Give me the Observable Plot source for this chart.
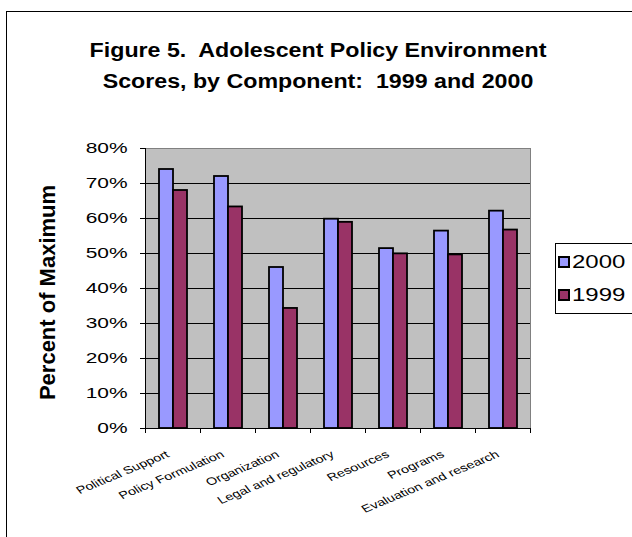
<!DOCTYPE html>
<html>
<head>
<meta charset="utf-8">
<script src="https://cdn.jsdelivr.net/npm/d3@7"></script>
<script src="https://cdn.jsdelivr.net/npm/@observablehq/plot@0.6"></script>
<style>
  html, body { margin: 0; padding: 0; background: #fff; }
  body { width: 632px; height: 537px; overflow: hidden; position: relative;
         font-family: "Liberation Sans", Arial, sans-serif; color: #000; }
  #border { position: absolute; left: 6px; top: 11px; width: 800px; height: 800px;
            border: 1px solid #000; box-sizing: border-box; }
  #title { position: absolute; left: 0; top: 35px; width: 636px; text-align: center;
           font-weight: bold; font-size: 20px; line-height: 31px;
           transform: scaleX(1.16); transform-origin: 50% 0; }
  #chart { position: absolute; left: 0; top: 130px; }
  #legend { position: absolute; left: 555px; top: 243px; width: 120px; height: 71px;
            border: 1px solid #000; background: #fff; box-sizing: border-box; }
  .sw { position: absolute; width: 12px; height: 12px; border: 2px solid #000; box-sizing: border-box; }
  .lt { position: absolute; font-size: 17.5px; line-height: 17.5px; white-space: nowrap;
        transform: scaleX(1.37); transform-origin: 0 0; }
</style>
</head>
<body>
<div id="border"></div>
<div id="title">Figure 5.&nbsp; Adolescent Policy Environment<br>Scores, by Component:&nbsp; 1999 and 2000</div>
<div id="chart"></div>
<div id="legend"></div>
<script>
// ---- data ----
const categories = ["Political Support", "Policy Formulation", "Organization", "Legal and regulatory", "Resources", "Programs", "Evaluation and research"];
const years = ["2000", "1999"];
const values2000 = [0.74, 0.72, 0.46, 0.598, 0.514, 0.564, 0.621];
const values1999 = [0.68, 0.633, 0.343, 0.589, 0.499, 0.496, 0.567];
const colors = ["#9999FF", "#993366"];
const yTicks = [0, 0.1, 0.2, 0.3, 0.4, 0.5, 0.6, 0.7, 0.8];
const yLabel = "Percent of Maximum";

const rows = categories.flatMap((c, i) => [
  {category: c, year: years[0], value: values2000[i]},
  {category: c, year: years[1], value: values1999[i]}
]);
const yDomain = [yTicks[0], yTicks[yTicks.length - 1]];

// tick marks at category boundaries, drawn from the facet frame and the y scale
function categoryTicks(index, scales, values, dimensions) {
  const y0 = scales.y(0);
  const g = d3.create("svg:g").attr("stroke", "black");
  for (const x of [dimensions.marginLeft, dimensions.width - dimensions.marginRight]) {
    g.append("line").attr("x1", x + 0.5).attr("x2", x + 0.5).attr("y1", y0).attr("y2", y0 + 5);
  }
  return g.node();
}

const chart = Plot.plot({
  width: 632,
  height: 407,
  marginTop: 18,
  marginBottom: 109,
  marginLeft: 142,
  marginRight: 100,
  style: {fontFamily: "'Liberation Sans', Arial, sans-serif", background: "transparent", overflow: "visible", color: "black"},
  fx: {domain: categories, padding: 0, axis: null, label: null},
  x: {domain: years, paddingInner: 0, paddingOuter: 0.9, axis: null},
  y: {domain: yDomain, axis: null},
  color: {domain: years, range: colors},
  marks: [
    Plot.frame({fill: "#c0c0c0", shapeRendering: "crispEdges"}),
    Plot.gridY(yTicks.slice(1, -1), {stroke: "black", strokeOpacity: 1}),
    Plot.frame({anchor: "top", stroke: "#808080"}),
    Plot.frame({anchor: "right", stroke: "#808080", facetAnchor: "right"}),
    Plot.barY(rows, {fx: "category", x: "year", y: "value", fill: "year", stroke: "black", strokeWidth: 1.8}),
    Plot.frame({anchor: "left", stroke: "black", facetAnchor: "left"}),
    Plot.frame({anchor: "bottom", stroke: "black"}),
    categoryTicks,
    Plot.axisY({ticks: yTicks, tickFormat: d3.format(".0%"), tickSize: 5, tickPadding: 13, fontSize: 15.5, label: null}),
    Plot.text(categories, {fx: d => d, text: d => d, frameAnchor: "bottom", textAnchor: "end", lineAnchor: "middle",
      rotate: -30, dy: 25, dx: -5, fontSize: 10.5}),
    Plot.text([yLabel], {y: () => d3.mean(yDomain), frameAnchor: "left", textAnchor: "middle", rotate: -90, dx: -98,
      dy: 4, fontSize: 22, fontWeight: "bold", lineAnchor: "middle", facetAnchor: "left"})
  ]
});
document.getElementById("chart").appendChild(chart);

// horizontal stretch of text to match the reference's wide lettering
function stretchText(nodes, k) {
  nodes.forEach(t => {
    const tr = t.getAttribute("transform");
    if (tr && /^translate\([^)]*\)/.test(tr)) {
      t.setAttribute("transform", tr.replace(/^(translate\([^)]*\))/, `$1 scale(${k},1)`));
    } else {
      const x = parseFloat(t.getAttribute("x")) || 0;
      const yAttr = t.getAttribute("y");
      const yIsNum = yAttr && !/em$/.test(yAttr);
      const yNum = yIsNum ? parseFloat(yAttr) : 0;
      t.setAttribute("transform", `translate(${x},${yNum}) scale(${k},1)` + (tr ? " " + tr : ""));
      t.removeAttribute("x");
      if (yIsNum) t.removeAttribute("y");
    }
  });
}
const allText = Array.from(chart.querySelectorAll("text"));
const tickLabels = yTicks.map(d3.format(".0%"));
stretchText(allText.filter(t => tickLabels.includes(t.textContent)), 1.35);
stretchText(allText.filter(t => categories.includes(t.textContent)), 1.38);

// legend
const legend = document.getElementById("legend");
years.forEach((yr, i) => {
  const sw = document.createElement("div");
  sw.className = "sw";
  sw.style.left = "2px";
  sw.style.top = (12 + i * 33) + "px";
  sw.style.background = colors[i];
  legend.appendChild(sw);
  const tx = document.createElement("div");
  tx.className = "lt";
  tx.style.left = "16px";
  tx.style.top = (10 + i * 33) + "px";
  tx.textContent = yr;
  legend.appendChild(tx);
});
</script>
</body>
</html>
